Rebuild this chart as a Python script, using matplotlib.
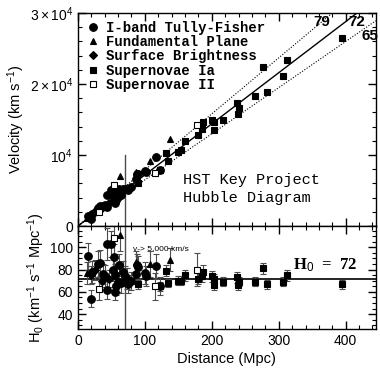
import matplotlib
matplotlib.use("Agg")
import matplotlib.pyplot as plt
import numpy as np

plt.rcParams['font.family'] = ['Liberation Sans', 'DejaVu Sans']
plt.rcParams['mathtext.fontset'] = 'custom'
plt.rcParams['mathtext.rm'] = 'Liberation Sans'
plt.rcParams['mathtext.it'] = 'Liberation Sans:italic'
plt.rcParams['mathtext.bf'] = 'Liberation Sans:bold'

# ---- data: distance (Mpc), H0, error on H0 ----
# I-band Tully-Fisher
tf_dist = [15, 19, 21, 30, 33, 37, 40, 43, 43, 49, 52, 54, 55, 55, 57, 60, 62, 64, 67, 70, 73, 75, 79, 87, 88, 90, 100, 102, 117, 122]
tf_h0 = [92, 54, 78, 85, 86, 76, 74, 103, 62, 103, 80, 91, 75, 60, 65, 69, 84, 68, 78, 74, 72, 67, 70, 76, 84, 82, 77, 74, 83, 65]
tf_err = [12, 8, 10, 12, 12, 9, 10, 14, 8, 12, 10, 12, 10, 7, 8, 9, 10, 9, 10, 9, 9, 8, 8, 9, 10, 10, 10, 9, 11, 8]

# Fundamental Plane
fp_dist = [14, 63, 87, 107, 137]
fp_h0 = [77, 111, 87, 85, 89]
fp_err = [10, 14, 10, 12, 10]

# Surface Brightness
sbf_dist = [20, 26, 36, 46]
sbf_h0 = [75, 80, 70, 72]
sbf_err = [8, 9, 8, 8]

# Supernovae Ia
sn1_dist = [90, 122, 131, 134, 149, 154, 160, 179, 185, 187, 201, 204, 204, 216, 237, 240, 239, 265, 277, 282, 306, 312, 395]
sn1_h0 = [67, 65, 79, 68, 70, 70, 75, 72, 74, 78, 74, 72, 66, 69, 73, 69, 66, 69, 81, 67, 69, 75, 67]
sn1_err = [4, 4, 5, 4, 4, 4, 5, 5, 5, 6, 5, 4, 4, 4, 5, 4, 4, 4, 5, 4, 4, 5, 4]

# Supernovae II
sn2_dist = [31, 54, 115, 178]
sn2_h0 = [63, 108, 65, 80]
sn2_err = [10, 15, 12, 15]

fit_h0 = 72
fit_bounds = [79, 65]
cut_dist = 70          # distance where v = 5,000 km/s
x_max = 445

series = [
    (tf_dist, tf_h0, tf_err, 'o', 'k', 5.5, 'I-band Tully-Fisher'),
    (fp_dist, fp_h0, fp_err, '^', 'k', 5, 'Fundamental Plane'),
    (sbf_dist, sbf_h0, sbf_err, 'D', 'k', 4, 'Surface Brightness'),
    (sn1_dist, sn1_h0, sn1_err, 's', 'k', 4.2, 'Supernovae Ia'),
    (sn2_dist, sn2_h0, sn2_err, 's', 'white', 4.2, 'Supernovae II'),
]

fig = plt.figure(figsize=(3.8, 3.69), dpi=100)
ax1 = fig.add_axes([0.205, 0.3875, 0.784, 0.577])
ax2 = fig.add_axes([0.205, 0.108, 0.784, 0.279])

# ---- top panel: velocity vs distance ----
xl = np.array([0, x_max])
ax1.plot(xl, fit_h0 * xl, color='k', lw=1.0)
for h in fit_bounds:
    ax1.plot(xl, h * xl, color='k', lw=0.8, ls=(0, (1, 1.5)))
ax1.plot([cut_dist, cut_dist], [0, 10000], color='0.3', lw=1.0)

for d, h, e, m, fc, ms, lab in series:
    d = np.array(d)
    v = np.array(h) * d
    ax1.plot(d, v, m, mfc=fc, mec='k', mew=0.8, ms=ms, ls='none', label=lab)

ax1.set_xlim(0, x_max)
ax1.set_ylim(0, 30000)
ax1.set_yticks([0, 10000, 20000, 30000])
ax1.set_yticklabels(['0', r'$10^4$', r'$2\times10^4$', r'$3\times10^4$'])
ax1.set_yticks(np.arange(0, 30001, 2000), minor=True)
ax1.set_xticks([0, 100, 200, 300, 400])
ax1.set_xticks(np.arange(0, 441, 20), minor=True)
ax1.tick_params(labelbottom=False)
ax1.set_ylabel(r'Velocity (km s$^{-1}$)', fontsize=10.5, labelpad=2)

leg = ax1.legend(loc='upper left', bbox_to_anchor=(0.0, 1.01), frameon=False,
                 handlelength=0.8, handletextpad=0.5, labelspacing=0.02,
                 borderpad=0.2, prop={'family': 'Liberation Mono', 'weight': 'bold', 'size': 10})

ax1.text(157, 6480, 'HST Key Project', family='Liberation Mono', fontsize=11, va='center')
ax1.text(157, 3940, 'Hubble Diagram', family='Liberation Mono', fontsize=11, va='center')

ax1.text(364, 28700, '79', fontsize=11, fontweight='bold', ha='center', va='center')
ax1.text(416, 28700, '72', fontsize=11, fontweight='bold', ha='center', va='center')
ax1.text(436, 26800, '65', fontsize=11, fontweight='bold', ha='center', va='center')

# ---- bottom panel: H0 vs distance ----
ax2.axhline(fit_h0, color='k', lw=1.2)
ax2.axvline(cut_dist, color='0.3', lw=1.0)
for d, h, e, m, fc, ms, lab in series:
    ax2.errorbar(d, h, yerr=e, fmt=m, mfc=fc, mec='k', mew=0.8, ms=ms,
                 ecolor='0.3', elinewidth=0.8, capsize=2, capthick=0.8)

ax2.set_xlim(0, x_max)
ax2.set_ylim(26.5, 119)
ax2.set_yticks([40, 60, 80, 100])
ax2.set_yticks(np.arange(30, 119, 5), minor=True)
ax2.set_xticks([0, 100, 200, 300, 400])
ax2.set_xticks(np.arange(0, 441, 20), minor=True)
ax2.set_xlabel('Distance (Mpc)', fontsize=10.5, labelpad=3)
ax2.set_ylabel(r'H$_0$ (km$^{-1}$ s$^{-1}$ Mpc$^{-1}$)', fontsize=10.5, labelpad=2)

ax2.text(82, 99, 'v-> 5,000 km/s', fontsize=6, va='center')
ax2.text(322, 84, r'H$_0$  =  72', family='Liberation Serif', fontweight='bold', fontsize=12, va='center')

for ax in (ax1, ax2):
    ax.tick_params(which='both', direction='in', top=True, right=True, labelsize=10)
    ax.tick_params(which='major', length=6, width=1)
    ax.tick_params(which='minor', length=3, width=0.8)
    for s in ax.spines.values():
        s.set_linewidth(1.0)

fig.savefig('out.png', dpi=100)
